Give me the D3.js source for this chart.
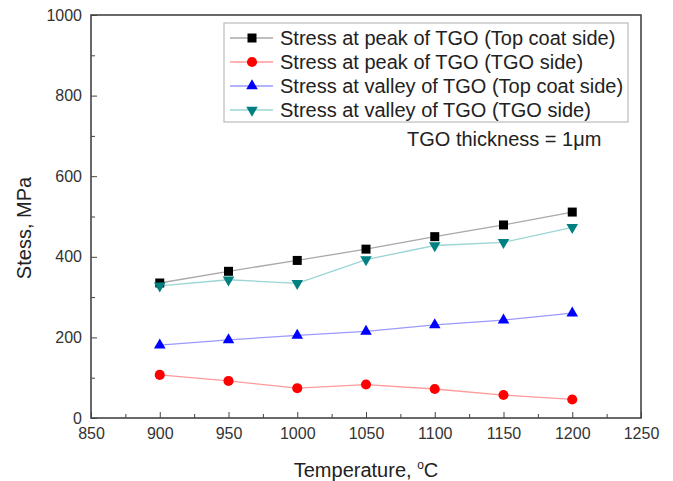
<!DOCTYPE html>
<html>
<head>
<meta charset="utf-8">
<title>Stress vs temperature</title>
<script src="https://d3js.org/d3.v7.min.js"></script>
<style>
body {margin:0; background:white;}
svg {font-family: "Liberation Sans", Arial, sans-serif;}
.axis text {font-size:16px; fill:#333;}
.axis path, .axis line {stroke:#444;}
</style>
</head>
<body>
<svg width="673" height="481"></svg>

<script>
// data
var temps = [900, 950, 1000, 1050, 1100, 1150, 1200];
var peakTop = [335, 364, 391, 419, 450, 479, 511];
var peakTGO = [107, 92, 74, 83, 72, 57, 46];
var valleyTop = [181, 194, 205, 215, 231, 243, 260];
var valleyTGO = [328, 343, 334, 393, 428, 436, 473];

var xTicks = [850, 900, 950, 1000, 1050, 1100, 1150, 1200, 1250];
var yTicks = [0, 200, 400, 600, 800, 1000];

var seriesNames = ["Stress at peak of TGO (Top coat side)", "Stress at peak of TGO (TGO side)",
                   "Stress at valley of TGO (Top coat side)", "Stress at valley of TGO (TGO side)"];
var seriesValues = [peakTop, peakTGO, valleyTop, valleyTGO];
var markerColors = ["#000000", "#ff0000", "#0000ff", "#008080"];
var lineColors = ["#a8a8a8", "#ff9a9a", "#9a9aff", "#9ad4d4"];
var shapes = [d3.symbolSquare, d3.symbolCircle, d3.symbolTriangle, d3.symbolTriangle];
var shapeSizes = [81, 80, 58, 58];
var flipped = [false, false, false, true];

var plotLeft = 91, plotRight = 641, plotTop = 15, plotBottom = 418;

var svg = d3.select("svg");
var x = d3.scaleLinear().domain([850, 1250]).range([plotLeft, plotRight]);
var y = d3.scaleLinear().domain([0, 1000]).range([plotBottom, plotTop]);

// minor ticks
svg.append("g").attr("class", "axis")
  .attr("transform", "translate(0," + plotBottom + ")")
  .call(d3.axisBottom(x).tickValues(d3.range(875, 1250, 50)).tickSize(-4).tickFormat(""))
  .select(".domain").remove();
svg.append("g").attr("class", "axis")
  .attr("transform", "translate(" + plotLeft + ",0)")
  .call(d3.axisLeft(y).tickValues(d3.range(100, 1000, 200)).tickSize(-4).tickFormat(""))
  .select(".domain").remove();

// major ticks
svg.append("g").attr("class", "axis")
  .attr("transform", "translate(0," + plotBottom + ")")
  .call(d3.axisBottom(x).tickValues(xTicks).tickSize(-6).tickPadding(10).tickFormat(d3.format("d")))
  .select(".domain").remove();
svg.append("g").attr("class", "axis")
  .attr("transform", "translate(" + plotLeft + ",0)")
  .call(d3.axisLeft(y).tickValues(yTicks).tickSize(-6).tickPadding(9).tickFormat(d3.format("d")))
  .select(".domain").remove();

// frame
svg.append("rect")
  .attr("x", plotLeft).attr("y", plotTop)
  .attr("width", plotRight - plotLeft).attr("height", plotBottom - plotTop)
  .attr("fill", "none").attr("stroke", "#444").attr("stroke-width", 1.6);

// series
var line = d3.line().x(function(d, i) { return x(temps[i]); }).y(function(d) { return y(d); });

seriesValues.forEach(function(vals, s) {
  svg.append("path")
    .datum(vals)
    .attr("d", line)
    .attr("fill", "none")
    .attr("stroke", lineColors[s])
    .attr("stroke-width", 1.3);
});

seriesValues.forEach(function(vals, s) {
  svg.append("g").selectAll("path")
    .data(vals)
    .enter()
    .append("path")
    .attr("d", d3.symbol().type(shapes[s]).size(shapeSizes[s]))
    .attr("transform", function(d, i) {
      return "translate(" + x(temps[i]) + "," + y(d) + ")" + (flipped[s] ? " rotate(180)" : "");
    })
    .attr("fill", markerColors[s]);
});

// legend
var legend = svg.append("g");
legend.append("rect")
  .attr("x", 224).attr("y", 23).attr("width", 404).attr("height", 99)
  .attr("fill", "white").attr("stroke", "#bbb").attr("stroke-width", 1.2);

seriesNames.forEach(function(name, s) {
  var ly = 38 + s * 24;
  legend.append("line")
    .attr("x1", 230).attr("x2", 273).attr("y1", ly).attr("y2", ly)
    .attr("stroke", lineColors[s]).attr("stroke-width", 1.3);
  legend.append("path")
    .attr("d", d3.symbol().type(shapes[s]).size(shapeSizes[s]))
    .attr("transform", "translate(252," + ly + ")" + (flipped[s] ? " rotate(180)" : ""))
    .attr("fill", markerColors[s]);
  legend.append("text")
    .attr("x", 280).attr("y", ly).attr("dy", "0.36em")
    .style("font-size", "20px").attr("fill", "#222")
    .text(name);
});

svg.append("text")
  .attr("x", 407).attr("y", 146)
  .style("font-size", "20px").attr("fill", "#222")
  .text("TGO thickness = 1\u03bcm");

// axis titles
svg.append("text")
  .attr("transform", "translate(31,228) rotate(-90)")
  .attr("text-anchor", "middle")
  .style("font-size", "20px").attr("fill", "#222")
  .text("Stess, MPa");

var xt = svg.append("text")
  .attr("x", 366).attr("y", 477)
  .attr("text-anchor", "middle")
  .style("font-size", "20px").attr("fill", "#222");
xt.append("tspan").text("Temperature, ");
xt.append("tspan").attr("dy", -8).style("font-size", "12px").text("o");
xt.append("tspan").attr("dy", 8).text("C");
</script>
</body>
</html>
